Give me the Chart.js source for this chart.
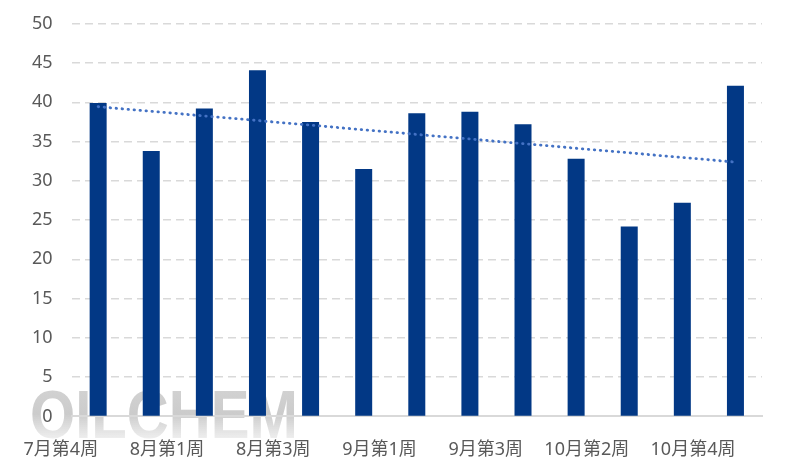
<!DOCTYPE html>
<html lang="zh">
<head>
    <meta charset="UTF-8">
    <title>周度走势</title>
    <script src="https://cdn.jsdelivr.net/npm/chart.js"></script>
    <style>
        html, body { margin: 0; padding: 0; background: #fff; }
        #wrap { width: 786px; height: 476px; }
    </style>
</head>
<body>
    <div id="wrap"><canvas id="weekChart" width="786" height="476"></canvas></div>

    <script>
        const weeks = ['7月第4周', '7月第5周', '8月第1周', '8月第2周', '8月第3周', '8月第4周',
            '9月第1周', '9月第2周', '9月第3周', '9月第4周', '10月第2周', '10月第3周', '10月第4周'];
        const values = [39.9, 33.8, 39.2, 44.1, 37.5, 31.5, 38.6, 38.8, 37.2, 32.8, 24.2, 27.2, 42.1];
        const yTicks = [0, 5, 10, 15, 20, 25, 30, 35, 40, 45, 50];

        // linear trend line (least squares) from the bar values
        function trend(arr) {
            const n = arr.length;
            const mx = (n - 1) / 2;
            const my = arr.reduce((a, b) => a + b, 0) / n;
            let sxy = 0, sxx = 0;
            arr.forEach((v, i) => { sxy += (i - mx) * (v - my); sxx += (i - mx) * (i - mx); });
            const k = sxy / sxx;
            return arr.map((v, i) => my + k * (i - mx));
        }

        const fontFamily = '"Noto Sans", "Noto Sans CJK SC", sans-serif';

        const watermark = {
            id: 'watermark',
            beforeDraw(chart) {
                const ctx = chart.ctx;
                ctx.save();
                const g = ctx.createLinearGradient(0, 388, 0, 440);
                g.addColorStop(0, 'rgba(205,205,205,0.9)');
                g.addColorStop(0.5, 'rgba(198,198,198,0.9)');
                g.addColorStop(1, 'rgba(236,236,236,0.8)');
                ctx.fillStyle = g;
                ctx.font = 'bold 68px "Liberation Sans", Arial, sans-serif';
                ctx.textBaseline = 'alphabetic';
                ctx.fillText('OILCHEM', 30, 438, 268);
                ctx.restore();
            }
        };

        new Chart(document.getElementById('weekChart'), {
            data: {
                labels: weeks,
                datasets: [{
                    type: 'line',
                    data: trend(values),
                    borderColor: '#4472C4',
                    borderWidth: 2.8,
                    borderDash: [0.5, 5.5],
                    borderCapStyle: 'round',
                    pointRadius: 0,
                    fill: false,
                    order: 0
                }, {
                    type: 'bar',
                    data: values,
                    backgroundColor: '#023885',
                    barPercentage: 0.32,
                    categoryPercentage: 1,
                    order: 1
                }]
            },
            plugins: [watermark],
            options: {
                responsive: false,
                animation: false,
                layout: { padding: { top: 0, right: 24, left: 13, bottom: 0 } },
                plugins: { legend: { display: false }, tooltip: { enabled: false } },
                scales: {
                    x: {
                        grid: { display: false },
                        border: { display: true, color: '#d9d9d9', width: 2 },
                        ticks: {
                            autoSkip: false,
                            maxRotation: 0,
                            align: 'end',
                            padding: 15,
                            color: '#595959',
                            font: { family: fontFamily, size: 18 },
                            callback: (v, i) => (i % 2 === 0 ? weeks[i] : '')
                        }
                    },
                    y: {
                        min: 0,
                        max: 50,
                        afterBuildTicks: (axis) => { axis.ticks = yTicks.map(v => ({ value: v })); },
                        afterFit: (axis) => { axis.paddingTop = Math.max(0, axis.paddingTop - 6); },
                        grid: {
                            color: (c) => (c.tick && c.tick.value === 0 ? 'rgba(0,0,0,0)' : '#d9d9d9'),
                            lineWidth: 1.5,
                            drawTicks: false
                        },
                        border: { display: false, dash: [8, 5] },
                        ticks: {
                            padding: 19,
                            color: '#595959',
                            font: { family: fontFamily, size: 18 }
                        }
                    }
                }
            }
        });
    </script>
</body>
</html>
